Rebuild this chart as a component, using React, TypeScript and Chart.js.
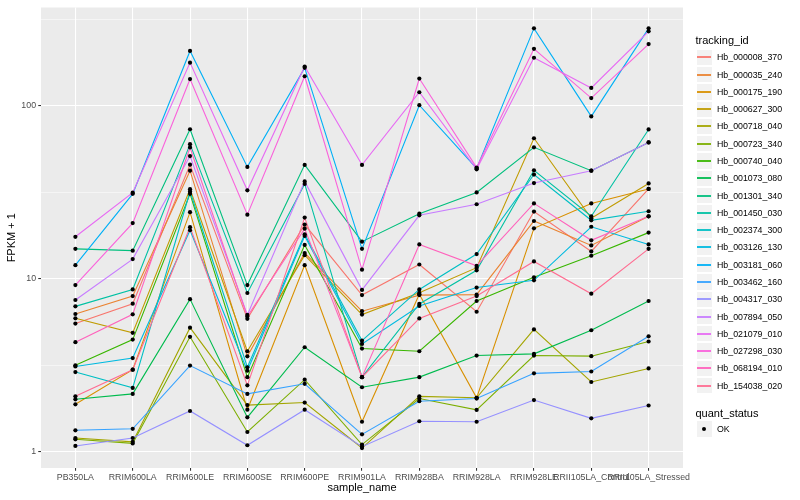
import React, { useEffect, useRef } from "react";
import { Chart, registerables } from "chart.js";

Chart.register(...registerables);

const categories = [
  "PB350LA", "RRIM600LA", "RRIM600LE", "RRIM600SE", "RRIM600PE", "RRIM901LA",
  "RRIM928BA", "RRIM928LA", "RRIM928LE", "RRII105LA_Control", "RRII105LA_Stressed",
];

const seriesNames = [
  "Hb_000008_370", "Hb_000035_240", "Hb_000175_190", "Hb_000627_300", "Hb_000718_040",
  "Hb_000723_340", "Hb_000740_040", "Hb_001073_080", "Hb_001301_340", "Hb_001450_030",
  "Hb_002374_300", "Hb_003126_130", "Hb_003181_060", "Hb_003462_160", "Hb_004317_030",
  "Hb_007894_050", "Hb_021079_010", "Hb_027298_030", "Hb_068194_010", "Hb_154038_020",
];

const seriesColors = [
  "#F8766D", "#EA8331", "#D89000", "#C09B00", "#A3A500",
  "#7CAE00", "#39B600", "#00BB4E", "#00BF7D", "#00C1A3",
  "#00BFC4", "#00BAE0", "#00B0F6", "#35A2FF", "#9590FF",
  "#C77CFF", "#E76BF3", "#FA62DB", "#FF62BC", "#FF6C91",
];

// FPKM + 1 per sample, in category order
const hb000008_370 = [5.51, 7.18, 45.7, 5.87, 20.6, 8.05, 12.1, 6.45, 24.5, 14.4, 33.1];
const hb000035_240 = [6.26, 7.95, 42.2, 3.56, 14.1, 6.5, 8.05, 8.1, 21.6, 15.6, 23.0];
const hb000175_190 = [1.88, 2.98, 24.3, 1.75, 12.0, 1.49, 8.15, 2.05, 19.6, 27.3, 33.1];
const hb000627_300 = [5.91, 4.87, 33.0, 3.81, 13.7, 6.21, 8.3, 11.6, 65.0, 22.4, 35.6];
const hb000718_040 = [1.2, 1.14, 5.22, 1.86, 1.925, 1.05, 2.09, 2.05, 5.1, 2.53, 3.03];
const hb000723_340 = [1.18, 1.117, 4.62, 1.3, 2.61, 1.1, 2.03, 1.745, 3.6, 3.57, 4.34];
const hb000740_040 = [3.16, 4.45, 31.0, 2.7, 15.7, 3.95, 3.81, 7.44, 10.2, 13.6, 18.5];
const hb001073_080 = [2.01, 2.16, 7.63, 1.58, 4.02, 2.36, 2.7, 3.6, 3.68, 5.04, 7.44];
const hb001301_340 = [14.9, 14.55, 73.3, 9.2, 45.6, 16.4, 23.8, 31.6, 57.6, 42.2, 61.5];
const hb001450_030 = [6.93, 8.68, 60.1, 8.28, 35.4, 2.7, 7.16, 11.2, 42.4, 23.0, 73.1];
const hb002374_300 = [2.89, 2.34, 32.0, 3.08, 18.1, 4.39, 8.68, 13.9, 40.1, 21.8, 24.6];
const hb003126_130 = [3.11, 3.48, 19.1, 2.94, 17.7, 4.2, 6.97, 8.9, 9.8, 20.0, 15.8];
const hb003181_060 = [12.0, 31.0, 208, 44.4, 166, 14.9, 101, 43.5, 281, 87, 281];
const hb003462_160 = [1.33, 1.357, 3.15, 2.16, 2.47, 1.26, 1.96, 2.03, 2.84, 2.91, 4.65];
const hb004317_030 = [1.08, 1.2, 1.72, 1.09, 1.75, 1.07, 1.5, 1.49, 1.99, 1.56, 1.85];
const hb007894_050 = [7.54, 13.0, 51.3, 6.18, 36.6, 8.63, 23.3, 27.0, 35.8, 42.2, 61.5];
const hb021079_010 = [17.5, 31.5, 178, 32.5, 169, 45.6, 120, 43.0, 190, 127, 270];
const hb027298_030 = [9.2, 21.0, 143, 23.5, 148.5, 11.3, 144, 44.0, 214, 111, 228];
const hb068194_010 = [4.3, 6.23, 57.5, 6.05, 19.5, 2.7, 15.8, 11.9, 27.3, 16.7, 23.0];
const hb154038_020 = [2.09, 2.98, 19.9, 2.42, 22.6, 2.7, 5.9, 7.95, 12.6, 8.2, 14.9];

const seriesValues = [
  hb000008_370, hb000035_240, hb000175_190, hb000627_300, hb000718_040,
  hb000723_340, hb000740_040, hb001073_080, hb001301_340, hb001450_030,
  hb002374_300, hb003126_130, hb003181_060, hb003462_160, hb004317_030,
  hb007894_050, hb021079_010, hb027298_030, hb068194_010, hb154038_020,
];

const yMajorTicks = [1, 10, 100];
const yGridValues = [1, 3.162, 10, 31.62, 100, 316.2];

const FONT = "'Liberation Sans', Arial, Helvetica, sans-serif";

const KEY = 17.28;
const LEGEND_LEFT = 695.5;
const KEYS_TOP = 48.7;

export default function App() {
  const ref = useRef<HTMLCanvasElement>(null);

  useEffect(() => {
    const canvas = ref.current;
    if (!canvas) return;

    const datasets: any[] = seriesValues.map((vals, i) => ({
      label: seriesNames[i],
      data: vals.map((v, j) => ({ x: j, y: v })),
      borderColor: seriesColors[i],
      backgroundColor: seriesColors[i],
      borderWidth: 1.1,
      pointRadius: 0,
      pointHoverRadius: 0,
      tension: 0,
      fill: false,
      order: 100 - i,
    }));

    datasets.push({
      label: "OK",
      data: seriesValues.flatMap((vals) => vals.map((v, j) => ({ x: j, y: v }))),
      showLine: false,
      pointRadius: 2.1,
      pointHoverRadius: 0,
      pointStyle: "circle",
      pointBackgroundColor: "#000000",
      pointBorderColor: "#000000",
      pointBorderWidth: 0,
      order: 0,
    });

    const panelBg = {
      id: "panelBg",
      beforeDraw(chart: any) {
        const { ctx, chartArea: a } = chart;
        ctx.save();
        ctx.fillStyle = "#EBEBEB";
        ctx.fillRect(a.left, a.top, a.right - a.left, a.bottom - a.top);
        ctx.restore();
      },
    };

    const isMajor = (v: number) => yMajorTicks.some((m) => Math.abs(m - v) < 1e-6);

    const chart = new Chart(canvas, {
      type: "line",
      data: { datasets },
      plugins: [panelBg],
      options: {
        animation: false,
        responsive: false,
        devicePixelRatio: 1,
        events: [],
        layout: { padding: { left: 0, right: 117, top: 5.5, bottom: 0 } },
        plugins: {
          legend: { display: false },
          tooltip: { enabled: false },
        },
        scales: {
          x: {
            type: "linear",
            min: -0.6,
            max: 10.6,
            bounds: "data",
            afterBuildTicks: (ax: any) => {
              ax.ticks = categories.map((_, i) => ({ value: i }));
            },
            afterFit: (ax: any) => {
              ax.height = 32;
            },
            ticks: {
              callback: (v: any) => categories[Number(v)] ?? "",
              autoSkip: false,
              maxRotation: 0,
              minRotation: 0,
              padding: 2,
              color: "#4D4D4D",
              font: { family: FONT, size: 8.8 },
            },
            grid: {
              color: "#FFFFFF",
              lineWidth: 1.07,
              drawTicks: true,
              tickLength: 2.75,
              tickColor: "#333333",
              tickWidth: 1.07,
            },
            border: { display: false },
            title: {
              display: true,
              text: "sample_name",
              color: "#000000",
              font: { family: FONT, size: 11 },
              padding: { top: 0, bottom: 5.4 },
            },
          },
          y: {
            type: "logarithmic",
            min: 0.805,
            max: 371,
            bounds: "data",
            afterBuildTicks: (ax: any) => {
              ax.ticks = yGridValues.map((v) => ({ value: v }));
            },
            afterFit: (ax: any) => {
              ax.width = 41;
            },
            ticks: {
              callback: (v: any) => (isMajor(Number(v)) ? String(Math.round(Number(v))) : ""),
              autoSkip: false,
              padding: 2.2,
              color: "#4D4D4D",
              font: { family: FONT, size: 8.8 },
            },
            grid: {
              color: "#FFFFFF",
              lineWidth: (c: any) => (isMajor(c.tick?.value) ? 1.07 : 0.53),
              drawTicks: true,
              tickLength: 2.75,
              tickColor: (c: any) => (isMajor(c.tick?.value) ? "#333333" : "rgba(0,0,0,0)"),
              tickWidth: 1.07,
            },
            border: { display: false },
            title: {
              display: true,
              text: "FPKM + 1",
              color: "#000000",
              font: { family: FONT, size: 11 },
              padding: { top: 5.4, bottom: 0 },
            },
          },
        },
      } as any,
    });

    return () => chart.destroy();
  }, []);

  const labelStyle: React.CSSProperties = {
    position: "absolute",
    left: 717,
    height: 12,
    lineHeight: "12px",
    fontSize: 8.8,
    fontFamily: FONT,
    color: "#000000",
    whiteSpace: "nowrap",
  };

  const okTop = 420.4;

  return (
    <div
      style={{
        position: "fixed",
        left: 0,
        top: 0,
        width: 800,
        height: 500,
        background: "#FFFFFF",
        overflow: "hidden",
      }}
    >
      <canvas ref={ref} width={800} height={500} style={{ position: "absolute", left: 0, top: 0, width: 800, height: 500 }} />
      <div
        style={{
          position: "absolute",
          left: LEGEND_LEFT,
          top: 33,
          height: 14,
          lineHeight: "14px",
          fontSize: 11,
          fontFamily: FONT,
          color: "#000000",
          whiteSpace: "nowrap",
        }}
      >
        tracking_id
      </div>
      {seriesNames.map((name, i) => {
        const top = KEYS_TOP + i * KEY;
        const lineTop = Math.round(top + KEY / 2 - 1);
        return (
          <React.Fragment key={name}>
            <div
              style={{
                position: "absolute",
                left: LEGEND_LEFT,
                top,
                width: KEY,
                height: KEY,
                background: "#F2F2F2",
                boxSizing: "border-box",
                border: "0.6px solid #FFFFFF",
              }}
            />
            <div
              style={{
                position: "absolute",
                left: Math.round(LEGEND_LEFT + KEY * 0.1),
                top: lineTop,
                width: 14,
                height: 2,
                background: seriesColors[i],
                opacity: 0.9,
              }}
            />
            <div style={{ ...labelStyle, top: top + KEY / 2 - 6 }}>{name}</div>
          </React.Fragment>
        );
      })}
      <div
        style={{
          position: "absolute",
          left: LEGEND_LEFT,
          top: 405.7,
          height: 14,
          lineHeight: "14px",
          fontSize: 11,
          fontFamily: FONT,
          color: "#000000",
          whiteSpace: "nowrap",
        }}
      >
        quant_status
      </div>
      <div
        style={{
          position: "absolute",
          left: LEGEND_LEFT,
          top: okTop,
          width: KEY,
          height: KEY,
          background: "#F2F2F2",
          boxSizing: "border-box",
          border: "0.6px solid #FFFFFF",
        }}
      />
      <div
        style={{
          position: "absolute",
          left: LEGEND_LEFT + KEY / 2 - 2.1,
          top: okTop + KEY / 2 - 2.1,
          width: 4.2,
          height: 4.2,
          borderRadius: "50%",
          background: "#000000",
        }}
      />
      <div style={{ ...labelStyle, top: okTop + KEY / 2 - 6 }}>OK</div>
    </div>
  );
}
